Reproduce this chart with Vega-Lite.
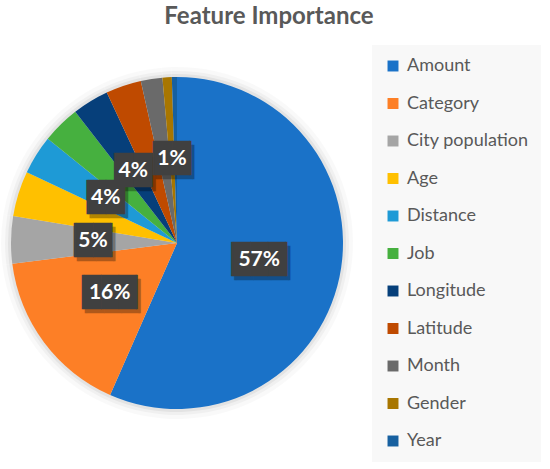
{
  "$schema": "https://vega.github.io/schema/vega-lite/v6.json",
  "autosize": {"type": "none"},
  "width": 354,
  "height": 366,
  "padding": {"left": 0, "top": 60, "right": 196, "bottom": 43},
  "background": "white",
  "title": {
    "text": "Feature Importance",
    "font": "Lato",
    "fontSize": 24,
    "fontWeight": "bold",
    "color": "#595959",
    "anchor": "middle",
    "frame": "group",
    "baseline": "alphabetic",
    "offset": -3,
    "dx": 92
  },
  "view": {"stroke": null},
  "data": {
    "values": [
      {"feature": "Amount", "importance": 0.566},
      {"feature": "Category", "importance": 0.164},
      {"feature": "City population", "importance": 0.046},
      {"feature": "Age", "importance": 0.044},
      {"feature": "Distance", "importance": 0.038},
      {"feature": "Job", "importance": 0.037},
      {"feature": "Longitude", "importance": 0.0355},
      {"feature": "Latitude", "importance": 0.0345},
      {"feature": "Month", "importance": 0.021},
      {"feature": "Gender", "importance": 0.009},
      {"feature": "Year", "importance": 0.005}
    ]
  },
  "encoding": {
    "theta": {"field": "importance", "type": "quantitative", "stack": true},
    "order": {"field": "importance", "sort": "descending"}
  },
  "layer": [
    {"mark": {"type": "arc", "outerRadius": 176, "color": "#000000", "opacity": 0.025}},
    {"mark": {"type": "arc", "outerRadius": 172, "color": "#000000", "opacity": 0.035}},
    {"mark": {"type": "arc", "outerRadius": 169, "color": "#000000", "opacity": 0.05}},
    {
      "mark": {"type": "arc", "outerRadius": 166},
      "encoding": {
        "color": {
          "field": "feature",
          "type": "nominal",
          "scale": {
            "domain": ["Amount", "Category", "City population", "Age", "Distance", "Job", "Longitude", "Latitude", "Month", "Gender", "Year"],
            "range": ["#1a72c8", "#fd7f26", "#a5a5a5", "#ffc000", "#1e9ad6", "#46b03f", "#063f7a", "#bf4a00", "#6a6a6a", "#a87600", "#1760a0"]
          },
          "legend": {
            "title": null,
            "orient": "none",
            "legendX": 372,
            "legendY": -15,
            "fillColor": "#f8f8f8",
            "padding": 12,
            "symbolType": "square",
            "symbolSize": 120,
            "symbolStrokeWidth": 0,
            "labelFont": "Lato",
            "labelFontSize": 18,
            "labelColor": "#595959",
            "labelOffset": 5,
            "rowPadding": 19.5
          }
        }
      }
    },
    {
      "mark": {"type": "text", "radius": 84, "font": "DejaVu Sans Mono", "fontSize": 29, "color": "#000000", "opacity": 0.3, "baseline": "middle", "dx": 3, "dy": 4},
      "encoding": {
        "text": {
          "condition": [
            {"test": "indexof(['Amount','Category'], datum.feature) >= 0", "value": "▕███▏"},
            {"test": "indexof(['City population','Distance','Longitude','Gender'], datum.feature) >= 0", "value": "▕██▏"}
          ],
          "value": ""
        }
      }
    },
    {
      "mark": {"type": "text", "radius": 84, "font": "DejaVu Sans Mono", "fontSize": 29, "color": "#404040", "baseline": "middle"},
      "encoding": {
        "text": {
          "condition": [
            {"test": "indexof(['Amount','Category'], datum.feature) >= 0", "value": "▕███▏"},
            {"test": "indexof(['City population','Distance','Longitude','Gender'], datum.feature) >= 0", "value": "▕██▏"}
          ],
          "value": ""
        }
      }
    },
    {
      "mark": {"type": "text", "radius": 84, "font": "Lato", "fontSize": 21, "fontWeight": "bold", "color": "white", "baseline": "middle"},
      "encoding": {
        "text": {
          "condition": {"test": "indexof(['Amount','Category','City population','Distance','Longitude','Gender'], datum.feature) >= 0", "field": "importance", "type": "quantitative", "format": ".0%"},
          "value": ""
        }
      }
    }
  ]
}
